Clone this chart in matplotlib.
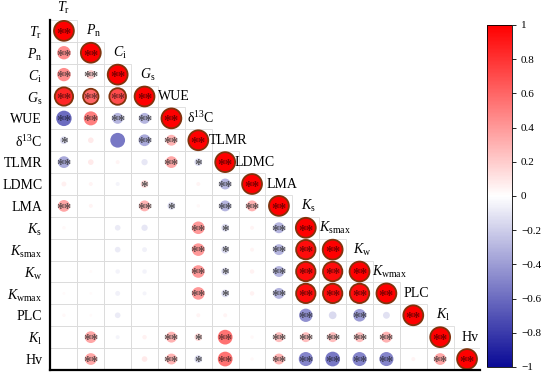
import numpy as np
import matplotlib
matplotlib.use("Agg")
import matplotlib.pyplot as plt
from matplotlib.colors import LinearSegmentedColormap
from matplotlib.patches import Rectangle

plt.rcParams['font.family'] = ['Liberation Serif', 'DejaVu Serif']
plt.rcParams['mathtext.fontset'] = 'custom'
plt.rcParams['mathtext.rm'] = 'Liberation Serif'
plt.rcParams['mathtext.it'] = 'Liberation Serif:italic'

labels = [r'$T_\mathrm{r}$', r'$P_\mathrm{n}$', r'$C_\mathrm{i}$', r'$G_\mathrm{s}$',
          'WUE', 'δ$^{13}$C', 'TLMR', 'LDMC', 'LMA',
          r'$K_\mathrm{s}$', r'$K_\mathrm{smax}$', r'$K_\mathrm{w}$', r'$K_\mathrm{wmax}$',
          'PLC', r'$K_\mathrm{l}$', 'Hv']

# lower triangle correlation values, row by row (diagonal included)
r_tr = [1]
r_pn = [0.45, 1]
r_ci = [0.45, 0.2, 1]
r_gs = [0.85, 0.6, 0.7, 1]
r_wue = [-0.6, 0.5, -0.3, -0.3, 1]
r_d13c = [-0.15, 0.08, -0.55, -0.35, 0.3, 1]
r_tlmr = [-0.35, 0.08, 0.04, -0.1, 0.35, -0.15, 1]
r_ldmc = [0.06, 0.04, -0.04, 0.15, 0.0, 0.04, -0.3, 1]
r_lma = [0.35, 0.04, 0.0, 0.3, -0.15, 0.03, -0.3, 0.3, 1]
r_ks = [0.03, 0.0, -0.08, -0.1, 0.0, 0.4, -0.15, 0.04, -0.3, 1]
r_ksmax = [0.0, 0.0, -0.08, -0.06, 0.0, 0.4, -0.15, 0.04, -0.3, 0.95, 1]
r_kw = [0.0, 0.02, -0.05, -0.05, 0.0, 0.4, -0.15, 0.05, -0.3, 0.95, 0.95, 1]
r_kwmax = [0.02, 0.02, -0.06, -0.04, 0.0, 0.4, -0.15, 0.05, -0.3, 0.95, 0.95, 0.95, 1]
r_plc = [0.03, 0.02, -0.08, 0.0, 0.0, 0.04, 0.04, 0.0, 0.0, -0.45, -0.15, -0.4, -0.12, 1]
r_kl = [0.0, 0.35, -0.04, 0.05, 0.3, 0.15, 0.55, 0.03, 0.25, 0.25, 0.25, 0.25, 0.3, 0.0, 1]
r_hv = [0.0, 0.35, 0.0, 0.08, 0.3, -0.15, 0.55, 0.03, 0.3, -0.5, -0.55, -0.5, -0.5, 0.04, 0.35, 1]

# significance marks
s_tr = ['**']
s_pn = ['**', '**']
s_ci = ['**', '**', '**']
s_gs = ['**', '**', '**', '**']
s_wue = ['**', '**', '**', '**', '**']
s_d13c = ['*', '', '', '**', '**', '**']
s_tlmr = ['**', '', '', '', '**', '*', '**']
s_ldmc = ['', '', '', '*', '', '', '**', '**']
s_lma = ['**', '', '', '**', '*', '', '**', '**', '**']
s_ks = ['', '', '', '', '', '**', '*', '', '**', '**']
s_ksmax = ['', '', '', '', '', '**', '*', '', '**', '**', '**']
s_kw = ['', '', '', '', '', '**', '*', '', '**', '**', '**', '**']
s_kwmax = ['', '', '', '', '', '**', '*', '', '**', '**', '**', '**', '**']
s_plc = ['', '', '', '', '', '', '', '', '', '**', '', '**', '', '**']
s_kl = ['', '**', '', '', '**', '*', '**', '', '**', '**', '**', '**', '**', '', '**']
s_hv = ['', '**', '', '', '**', '*', '**', '', '**', '**', '**', '**', '**', '', '**', '**']

r_rows = [r_tr, r_pn, r_ci, r_gs, r_wue, r_d13c, r_tlmr, r_ldmc, r_lma,
          r_ks, r_ksmax, r_kw, r_kwmax, r_plc, r_kl, r_hv]
s_rows = [s_tr, s_pn, s_ci, s_gs, s_wue, s_d13c, s_tlmr, s_ldmc, s_lma,
          s_ks, s_ksmax, s_kw, s_kwmax, s_plc, s_kl, s_hv]

cmap = LinearSegmentedColormap.from_list('bwr_c', ['#0a0a96', '#ffffff', '#ff0000'])

fig = plt.figure(figsize=(5.5, 3.83), dpi=100)
ax = fig.add_axes([0.0918, 0.034, 0.7818, 0.914])
cax = fig.add_axes([0.886, 0.042, 0.045, 0.893])

n = len(labels)
xs, ys, vals = [], [], []
for i, row in enumerate(r_rows):
    for j, v in enumerate(row):
        ax.add_patch(Rectangle((j - 0.5, i - 0.5), 1, 1, facecolor='none',
                               edgecolor='#dcdcdc', lw=0.6, zorder=1))
        xs.append(j)
        ys.append(i)
        vals.append(v)
vals = np.array(vals)

# dark ring on the strong positive circles
edges = []
for v in vals:
    if v >= 0.6:
        edges.append((0.5, 0.2, 0.05, 1.0))
    else:
        edges.append((0, 0, 0, 0))

sc = ax.scatter(xs, ys, s=205 * np.abs(vals), c=vals, cmap=cmap, vmin=-1, vmax=1,
                edgecolors=edges, linewidths=1.3, zorder=2)

grey = np.array([0.3, 0.3, 0.3])
for i, row in enumerate(s_rows):
    for j, mark in enumerate(row):
        if mark:
            v = r_rows[i][j]
            base = np.array(cmap((v + 1) / 2)[:3]) * 0.5
            w = min(abs(v) * 1.6, 1.0)
            col = w * base + (1 - w) * grey
            ax.text(j, i + 0.15, mark, ha='center', va='center', fontsize=11,
                    fontweight='bold', color=col, zorder=3)

# column labels along the diagonal
ax.text(0, -1.05, labels[0], ha='center', va='center', fontsize=10, clip_on=False)
for i in range(n - 1):
    ax.text(i + 1.1, i, labels[i + 1], ha='center', va='center', fontsize=10)

ax.set_xlim(-0.5, n - 0.5)
ax.set_ylim(n - 0.5, -0.5)
ax.set_yticks(range(n))
ax.set_yticklabels(labels, fontsize=10)
ax.set_xticks([])
ax.tick_params(axis='y', length=0, pad=6)
for side in ['top', 'right']:
    ax.spines[side].set_visible(False)
for side in ['left', 'bottom']:
    ax.spines[side].set_linewidth(1.6)

cb = fig.colorbar(sc, cax=cax)
ticks = [1, 0.8, 0.6, 0.4, 0.2, 0, -0.2, -0.4, -0.6, -0.8, -1]
cb.set_ticks(ticks)
cb.set_ticklabels(['1', '0.8', '0.6', '0.4', '0.2', '0', '−0.2', '−0.4', '−0.6', '−0.8', '−1'])
cb.ax.tick_params(labelsize=8, length=3, width=0.6)
cb.outline.set_linewidth(0.6)

fig.savefig('out.png', dpi=100)
